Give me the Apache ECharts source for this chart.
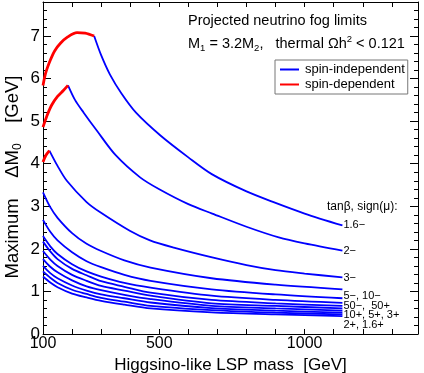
<!DOCTYPE html>
<html>
<head>
<meta charset="utf-8">
<script src="https://cdn.jsdelivr.net/npm/echarts@6/dist/echarts.min.js"></script>
<style>
  html, body { margin: 0; padding: 0; background: #fff; }
  #chart { width: 424px; height: 373px; }
</style>
</head>
<body>
<div id="chart"></div>
<script>
// x = Higgsino-like LSP mass [GeV], y = maximum ΔM0 [GeV]
// spin-dependent (red) pieces at low mass
const sd16m = [[100, 5.84], [110, 6.15], [125, 6.43], [140, 6.65], [160, 6.83], [185, 6.98], [217, 7.08], [245, 7.07], [276, 7.0]];
const sd2m = [[100, 4.86], [115, 5.15], [130, 5.38], [150, 5.58], [170, 5.72], [186, 5.84]];
const sd3m = [[100, 4.04], [110, 4.2], [122, 4.31]];

// spin-independent (blue) curves
const si16m = [[276, 7.0], [300, 6.55], [330, 6.1], [370, 5.65], [420, 5.2], [503, 4.67], [600, 4.15], [682, 3.75], [800, 3.35], [900, 3.08], [1000, 2.83], [1130, 2.55]];
const si2m = [[186, 5.84], [210, 5.5], [240, 5.2], [285, 4.78], [350, 4.2], [434, 3.68], [500, 3.4], [600, 3.05], [682, 2.83], [800, 2.52], [911, 2.27], [1000, 2.13], [1130, 1.96]];
const si3m = [[122, 4.31], [150, 3.95], [182, 3.6], [250, 3.1], [297, 2.86], [400, 2.42], [468, 2.2], [550, 2.03], [682, 1.8], [800, 1.62], [900, 1.5], [1000, 1.42], [1130, 1.33]];

const massGrid = [100, 125, 150, 200, 250, 300, 380, 470, 680, 900, 1130];
const si5m  = [3.33, 2.98, 2.73, 2.37, 2.12, 1.95, 1.73, 1.56, 1.31, 1.16, 1.05];
const si10m = [2.68, 2.4, 2.2, 1.92, 1.71, 1.57, 1.39, 1.25, 1.05, 0.93, 0.84];
const si50m = [2.3, 2.06, 1.88, 1.64, 1.47, 1.35, 1.2, 1.09, 0.9, 0.8, 0.73];
const si50p = [2.17, 1.94, 1.76, 1.53, 1.38, 1.24, 1.11, 0.97, 0.8, 0.72, 0.66];
const si10p = [1.95, 1.75, 1.6, 1.39, 1.25, 1.13, 1.02, 0.9, 0.72, 0.66, 0.6];
const si5p  = [1.76, 1.58, 1.45, 1.26, 1.12, 1.03, 0.92, 0.82, 0.66, 0.6, 0.55];
const si3p  = [1.6, 1.43, 1.31, 1.14, 1.02, 0.93, 0.84, 0.74, 0.61, 0.55, 0.5];
const si2p  = [1.47, 1.32, 1.2, 1.04, 0.94, 0.85, 0.76, 0.66, 0.56, 0.5, 0.46];
const si16p = [1.35, 1.21, 1.1, 0.95, 0.86, 0.78, 0.69, 0.6, 0.51, 0.46, 0.42];

const xTickLabels = [100, 500, 1000];

const BLUE = '#0000ff';
const RED = '#ff0000';
const FONT = 'Liberation Sans, Arial, sans-serif';

const pair = (ys) => massGrid.map((x, i) => [x, ys[i]]);

function blue(data, label, offset) {
    const s = {
        name: 'spin-independent',
        type: 'line',
        data: data,
        smooth: 0.3,
        symbol: 'none',
        color: BLUE,
        lineStyle: { color: BLUE, width: 1.8 },
        z: 2,
    };
    if (label) {
        s.endLabel = {
            show: true,
            formatter: label,
            color: '#000',
            fontSize: 11,
            fontFamily: FONT,
            distance: 1,
            offset: offset || [0, 0],
        };
    }
    return s;
}

function red(data) {
    return {
        name: 'spin-dependent',
        type: 'line',
        data: data,
        smooth: 0.3,
        symbol: 'none',
        color: RED,
        lineStyle: { color: RED, width: 2.8 },
        z: 3,
    };
}

const chart = echarts.init(document.getElementById('chart'));

const axisCommon = {
    type: 'value',
    splitLine: { show: false },
    axisLine: { show: true, onZero: false, lineStyle: { color: '#000', width: 1 } },
};

const option = {
    animation: false,
    backgroundColor: '#fff',
    textStyle: { fontFamily: FONT },
    grid: { left: 43, right: 6, top: 2, bottom: 39, containLabel: false, outerBoundsMode: 'none' },
    legend: {
        left: 275,
        top: 60,
        orient: 'vertical',
        backgroundColor: '#fff',
        borderColor: '#777',
        borderWidth: 1,
        borderRadius: 0,
        padding: [3, 3, 3, 5],
        itemGap: 2,
        itemWidth: 19,
        itemHeight: 2,
        icon: 'rect',
        textStyle: { fontSize: 13, color: '#000', fontFamily: FONT, padding: [0, 0, 0, 1] },
        data: ['spin-independent', 'spin-dependent'],
    },
    xAxis: [
        Object.assign({}, axisCommon, {
            min: 100,
            max: 1390,
            interval: 100,
            position: 'bottom',
            axisTick: { show: true, inside: true, length: 5, lineStyle: { color: '#000' } },
            axisLabel: {
                color: '#000',
                fontSize: 16,
                fontFamily: FONT,
                margin: 2,
                showMaxLabel: false,
                formatter: (v) => (xTickLabels.includes(v) ? String(v) : ''),
            },
            name: 'Higgsino-like LSP mass  [GeV]',
            nameLocation: 'middle',
            nameGap: 18,
            nameTextStyle: { color: '#000', fontSize: 17, fontFamily: FONT },
        }),
        Object.assign({}, axisCommon, {
            min: 100,
            max: 1390,
            interval: 100,
            position: 'top',
            axisTick: { show: true, inside: true, length: 5, lineStyle: { color: '#000' } },
            axisLabel: { show: false },
        }),
    ],
    yAxis: [
        Object.assign({}, axisCommon, {
            min: 0,
            max: 7.8,
            interval: 1,
            position: 'left',
            axisTick: { show: true, inside: true, length: 8, lineStyle: { color: '#000' } },
            minorTick: { show: true, splitNumber: 5, length: 4, lineStyle: { color: '#000' } },
            axisLabel: {
                color: '#000',
                fontSize: 17,
                fontFamily: FONT,
                margin: 3,
                showMaxLabel: false,
            },
        }),
        Object.assign({}, axisCommon, {
            min: 0,
            max: 7.8,
            interval: 1,
            position: 'right',
            axisTick: { show: true, inside: true, length: 8, lineStyle: { color: '#000' } },
            minorTick: { show: true, splitNumber: 5, length: 4, lineStyle: { color: '#000' } },
            axisLabel: { show: false },
        }),
    ],
    graphic: [
        {
            type: 'text',
            x: 13,
            y: 177,
            rotation: Math.PI / 2,
            style: {
                text: '{a|Maximum    ΔM}{s|0}{a|    [GeV]}',
                align: 'center',
                verticalAlign: 'middle',
                rich: {
                    a: { fontSize: 18.5, fontFamily: FONT, fill: '#000' },
                    s: { fontSize: 12, fontFamily: FONT, fill: '#000', padding: [10, 0, 0, 0] },
                },
            },
        },
        {
            type: 'text',
            left: 188,
            top: 13,
            style: { text: 'Projected neutrino fog limits', fontSize: 14.5, fontFamily: FONT, fill: '#000' },
        },
        {
            type: 'text',
            left: 188,
            top: 34,
            style: {
                text: '{a|M}{s|1}{a| = 3.2M}{s|2}{a|,   thermal Ωh}{p|2}{a| < 0.121}',
                rich: {
                    a: { fontSize: 14.5, fontFamily: FONT, fill: '#000' },
                    s: { fontSize: 9.5, fontFamily: FONT, fill: '#000', padding: [9, 0, 0, 0] },
                    p: { fontSize: 9.5, fontFamily: FONT, fill: '#000', padding: [0, 0, 10, 0] },
                },
            },
        },
        {
            type: 'text',
            left: 327,
            top: 201,
            style: { text: 'tanβ, sign(μ):', fontSize: 12, fontFamily: FONT, fill: '#000' },
        },
    ],
    series: [
        red(sd16m),
        red(sd2m),
        red(sd3m),
        blue(si16m, '1.6−'),
        blue(si2m, '2−'),
        blue(si3m, '3−', [0, 1]),
        blue(pair(si5m)),
        blue(pair(si10m), '5−, 10−', [0, -2]),
        blue(pair(si50m)),
        blue(pair(si50p), '50−,  50+', [0, 0]),
        blue(pair(si10p)),
        blue(pair(si5p), '10+, 5+, 3+', [0, 4]),
        blue(pair(si3p)),
        blue(pair(si2p)),
        blue(pair(si16p), '2+, 1.6+', [0, 9]),
    ],
};

chart.setOption(option);
</script>
</body>
</html>
